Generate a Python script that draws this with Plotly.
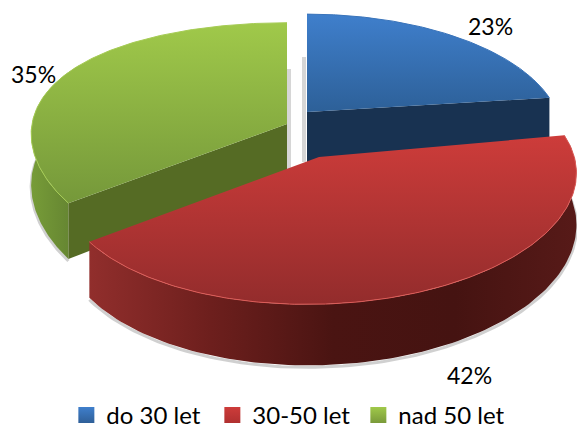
import numpy as np
import plotly.graph_objects as go

categories = ['do 30 let', '30-50 let', 'nad 50 let']
shares = [23, 42, 35]

# look of each slice, pixels of the 577x430 page
centers_x = [307, 319, 287]
centers_y = [112, 157, 124]
radii_x = [250, 253, 255]
radii_y = [116, 120, 120]
tilts = [0, 7, 0]
shears = [0, 0, 27]
top_colors = [['#2d6098', '#3f7fcc'], ['#932c2c', '#cd3c3a'], ['#75983a', '#a0c94a']]
cut_colors = ['#183251', '#7a1f1f', '#556b24']
side_colors = [
    ['#1c3a5c', '#1c3a5c'],
    ['#912e2c', '#6d1f1d', '#4a1412', '#451311', '#571a18'],
    ['#779c38', '#618030'],
]
rim_colors = ['#3a74ba', '#dd5c58', '#a6cc55']
marker_colors = ['#2f5f98', '#b03030', '#7a9a3a']
label_x = [490, 469, 33]
label_y = [26, 375, 74]

PERSPECTIVE = 0.185
DEPTH = 50
DEPTH_PERSPECTIVE = 0.18


def point(i, theta, r=1.0, down=False):
    u = np.sin(theta) * r
    v = np.cos(theta) * r
    d = 1 + PERSPECTIVE * v
    x = centers_x[i] + radii_x[i] * u / d + shears[i] * u * v
    y = centers_y[i] - radii_y[i] * v / d - tilts[i] * u
    if down:
        y = y + DEPTH / (1 + DEPTH_PERSPECTIVE * v)
    return x, y


def shape(fig, x, y, colors, kind='vertical'):
    scale = [[n / (len(colors) - 1), c] for n, c in enumerate(colors)]
    fig.add_trace(go.Scatter(
        x=x, y=y, mode='lines', fill='toself',
        fillgradient=dict(type=kind, colorscale=scale),
        line=dict(width=0), hoverinfo='skip', showlegend=False,
    ))


def side(fig, i, a, b, colors, kind='horizontal'):
    t = np.linspace(a, b, 120)
    x1, y1 = point(i, t)
    x2, y2 = point(i, t[::-1], down=True)
    shape(fig, np.r_[x1, x2], np.r_[y1, y2], colors, kind)


def cut(fig, i, a):
    x1, y1 = point(i, a)
    x0, y0 = point(i, a, r=0)
    x3, y3 = point(i, a, down=True)
    x4, y4 = point(i, a, r=0, down=True)
    fig.add_trace(go.Scatter(
        x=[x0, x1, x3, x4], y=[y0, y1, y3, y4], mode='lines', fill='toself',
        fillcolor=cut_colors[i], line=dict(width=0),
        hoverinfo='skip', showlegend=False,
    ))


def shadow(fig, i, a, b):
    t = np.linspace(a, b, 120)
    x, y = point(i, t, down=True)
    fig.add_trace(go.Scatter(
        x=x, y=y + 2, mode='lines',
        line=dict(width=3, color='rgba(120,120,120,0.35)'),
        hoverinfo='skip', showlegend=False,
    ))


def inner_shadow(fig, i, offset):
    # soft grey strip in the gap between the green and the blue slice
    x = centers_x[i] + offset
    y = centers_y[i]
    fig.add_trace(go.Scatter(
        x=[x, x], y=[y - 55, y + DEPTH], mode='lines',
        line=dict(width=4, color='rgba(120,120,120,0.3)'),
        hoverinfo='skip', showlegend=False,
    ))


def top(fig, i, a, b):
    t = np.linspace(a, b, 160)
    x, y = point(i, t)
    x0, y0 = point(i, a, r=0)
    shape(fig, np.r_[x0, x, x0], np.r_[y0, y, y0], top_colors[i])
    fig.add_trace(go.Scatter(
        x=x, y=y, mode='lines', line=dict(width=1, color=rim_colors[i]),
        hoverinfo='skip', showlegend=False,
    ))


ends = np.cumsum(shares) / sum(shares) * 2 * np.pi
starts = np.r_[0, ends[:-1]]

fig = go.Figure()

inner_shadow(fig, 2, 2)
inner_shadow(fig, 0, -3)

# green first, then blue, red sits in front of both
for i in [2, 0, 1]:
    a, b = starts[i], ends[i]
    if i == 2:
        shadow(fig, i, a, a + 0.9)
        side(fig, i, a, a + 1.2, side_colors[i])
        cut(fig, i, a)
    elif i == 0:
        cut(fig, i, b)
    else:
        shadow(fig, i, a, b)
        side(fig, i, a, b, side_colors[i])
    top(fig, i, a, b)

for i, name in enumerate(categories):
    fig.add_trace(go.Scatter(
        x=[None], y=[None], mode='markers', name=name,
        marker=dict(symbol='square', size=16, color=top_colors[i][1],
                    gradient=dict(type='vertical', color=marker_colors[i]),
                    line=dict(width=0)),
    ))
    fig.add_annotation(
        x=label_x[i], y=label_y[i], text=f'{shares[i]}%', showarrow=False,
        font=dict(family='Lato', size=23, color='#000000'),
    )

fig.update_layout(
    width=577, height=430,
    margin=dict(l=0, r=0, t=0, b=0, autoexpand=False),
    paper_bgcolor='white', plot_bgcolor='white',
    xaxis=dict(range=[0, 577], visible=False, fixedrange=True),
    yaxis=dict(range=[430, 0], visible=False, fixedrange=True),
    legend=dict(
        orientation='h', x=0.115, xanchor='left', y=0.034, yanchor='middle',
        font=dict(family='Lato', size=24, color='#000000'),
        itemwidth=30, bgcolor='rgba(0,0,0,0)',
        entrywidth=101, entrywidthmode='pixels',
    ),
)

fig.write_html('out.html', config={'displayModeBar': False},
               post_script="document.body.style.margin='0';")
